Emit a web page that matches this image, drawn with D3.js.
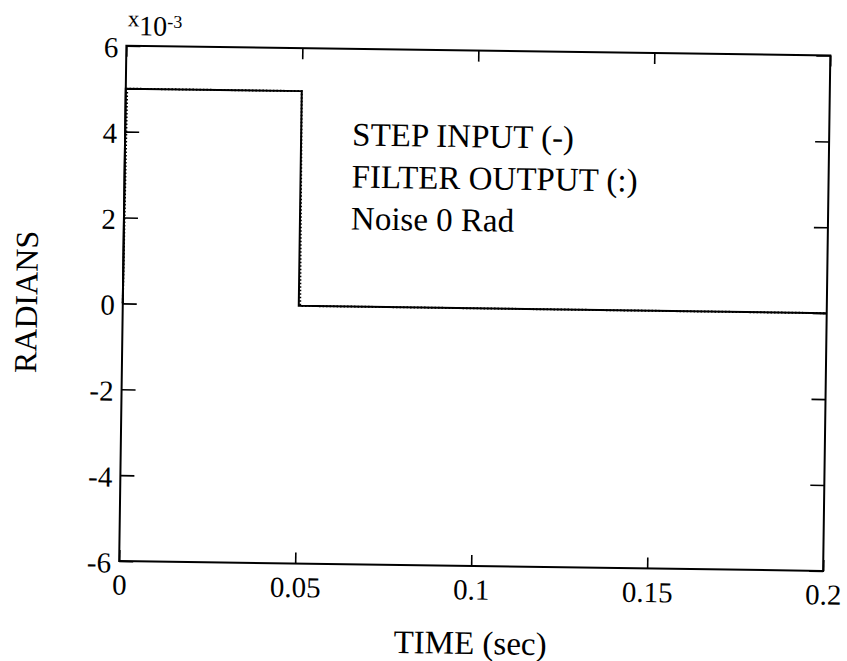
<!DOCTYPE html>
<html>
<head>
<meta charset="utf-8">
<script src="https://cdn.jsdelivr.net/npm/d3@7"></script>
<style>
  html, body { margin: 0; padding: 0; background: #fff; }
  svg { display: block; }
  text { font-family: "Liberation Serif", "DejaVu Serif", serif; fill: #000; }
</style>
</head>
<body>
<svg id="chart" width="847" height="661"></svg>
<script>
// Step input and filter response (values in units of 1e-3 rad)
const stepTime = [0, 0, 0.05, 0.05, 0.2];
const stepValue = [0, 5, 5, 0, 0];
const filterTime = [0, 0.0004, 0.05, 0.0504, 0.2];
const filterValue = [0, 5, 5, 0, 0];

const xTicks = [0, 0.05, 0.1, 0.15, 0.2];
const xTickLabels = ["0", "0.05", "0.1", "0.15", "0.2"];
const yTicks = [-6, -4, -2, 0, 2, 4, 6];
const yTickLabels = ["-6", "-4", "-2", "0", "2", "4", "6"];

const legendLines = ["STEP INPUT (-)", "FILTER OUTPUT (:)", "Noise 0 Rad"];

const plot = { left: 122.75, right: 826.75, top: 50.6, bottom: 566 };
const cx = (plot.left + plot.right) / 2, cy = (plot.top + plot.bottom) / 2;

const svg = d3.select("#chart");
// the whole figure sits at a slight clockwise tilt
const root = svg.append("g").attr("transform", `rotate(0.8, ${cx}, ${cy})`);

const x = d3.scaleLinear().domain([0, 0.2]).range([plot.left, plot.right]);
const y = d3.scaleLinear().domain([-6, 6]).range([plot.bottom, plot.top]);

function styleAxis(g) {
  g.select(".domain").remove();
  g.attr("font-family", null).attr("font-size", null);
  g.selectAll(".tick line").attr("stroke", "#000").attr("stroke-width", 1.6);
  g.selectAll("text").attr("font-size", 29).attr("fill", "#000");
}

// Axes with inward ticks
root.append("g").attr("transform", `translate(${plot.left},0)`)
  .call(d3.axisLeft(y).tickValues(yTicks).tickFormat((d, i) => yTickLabels[i])
    .tickSizeInner(-14).tickSizeOuter(0).tickPadding(8))
  .call(styleAxis)
  .selectAll("text").attr("dy", "0.38em");

root.append("g").attr("transform", `translate(${plot.right},0)`)
  .call(d3.axisRight(y).tickValues(yTicks).tickFormat("")
    .tickSizeInner(-14).tickSizeOuter(0))
  .call(styleAxis);

root.append("g").attr("transform", `translate(0,${plot.bottom})`)
  .call(d3.axisBottom(x).tickValues(xTicks).tickFormat((d, i) => xTickLabels[i])
    .tickSizeInner(-11).tickSizeOuter(0).tickPadding(13))
  .call(styleAxis);

root.append("g").attr("transform", `translate(0,${plot.top})`)
  .call(d3.axisTop(x).tickValues(xTicks).tickFormat("")
    .tickSizeInner(-11).tickSizeOuter(0))
  .call(styleAxis);

// Frame
root.append("rect")
  .attr("x", plot.left).attr("y", plot.top)
  .attr("width", plot.right - plot.left).attr("height", plot.bottom - plot.top)
  .attr("fill", "none").attr("stroke", "#000").attr("stroke-width", 2);

// Series
const line = d3.line().x(d => x(d[0])).y(d => y(d[1]));
const stepData = stepTime.map((t, i) => [t, stepValue[i]]);
const filterData = filterTime.map((t, i) => [t, filterValue[i]]);

root.append("path").datum(stepData).attr("d", line)
  .attr("fill", "none").attr("stroke", "#000").attr("stroke-width", 2);
root.append("path").datum(filterData).attr("d", line)
  .attr("fill", "none").attr("stroke", "#000").attr("stroke-width", 2)
  .attr("stroke-dasharray", "1.5,2");

// Exponent label
const expo = root.append("text").attr("x", plot.left + 1).attr("y", 40);
expo.append("tspan").attr("font-size", 23).attr("dy", -9).text("x");
expo.append("tspan").attr("font-size", 28).attr("dy", 9).text("10");
expo.append("tspan").attr("font-size", 18).attr("dy", -8).text("-3");

// Legend text block
root.selectAll("text.legend").data(legendLines).enter().append("text")
  .attr("class", "legend")
  .attr("x", x(0.0645)).attr("y", (d, i) => y(3.75) + i * 42)
  .attr("font-size", 33)
  .text(d => d);

// Axis titles
root.append("text").attr("x", cx).attr("y", 654).attr("text-anchor", "middle")
  .attr("font-size", 33).text("TIME (sec)");
root.append("text").attr("transform", `translate(37,${cy}) rotate(-90)`)
  .attr("text-anchor", "middle").attr("font-size", 32).text("RADIANS");
</script>
</body>
</html>
